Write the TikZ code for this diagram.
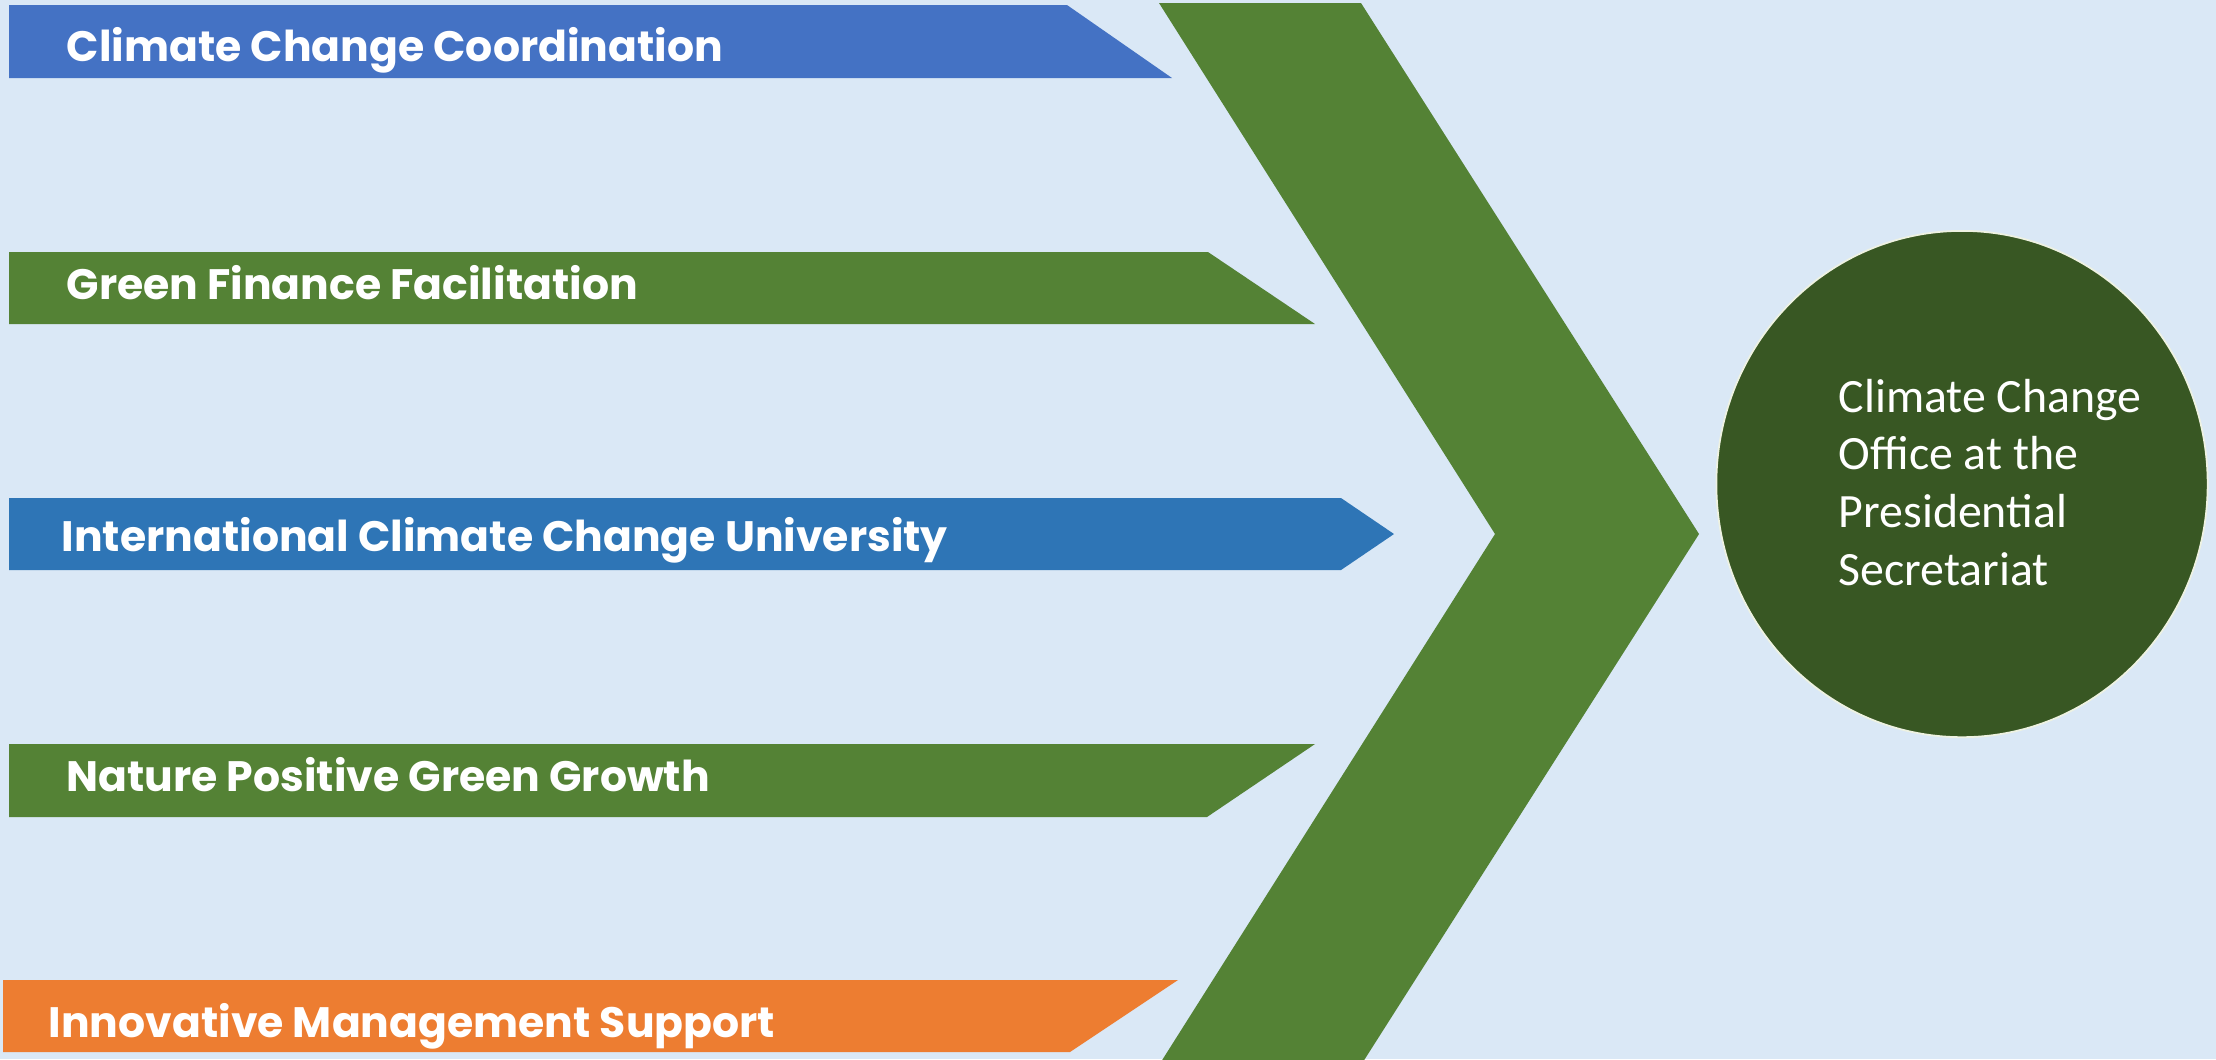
\documentclass[tikz,border=0pt]{standalone}
\usepackage{fontspec}
\newfontfamily\barfont{Poppins}
\newfontfamily\officefont{Carlito}
\usepackage{tikz}
\usetikzlibrary{shapes.geometric}

\definecolor{paleblue}{HTML}{DAE8F6}
\definecolor{coordblue}{HTML}{4472C4}
\definecolor{unigblue}{HTML}{2E75B6}
\definecolor{leafgreen}{HTML}{548235}
\definecolor{supportorange}{HTML}{ED7D31}
\definecolor{officegreen}{HTML}{385723}
\definecolor{rimcream}{HTML}{EEF2E2}

\tikzset{
  bartext/.style={anchor=base west, inner sep=0pt, text=white,
    font=\barfont\bfseries\fontsize{12.1}{14}\selectfont},
  officetext/.style={align=left, inner sep=0pt, text=white,
    font=\officefont\fontsize{13.6}{16.4}\selectfont}
}

\begin{document}
\begin{tikzpicture}[x=0.01cm, y=-0.01cm]
    \fill[paleblue] (0,0) rectangle (2216,1059);
    \useasboundingbox (0,0) rectangle (2216,1059);

    \fill[coordblue] (9,5) -- (1067,5) -- (1172,78) -- (9,78) -- cycle;
    \fill[leafgreen] (9,252) -- (1208,252) -- (1315,324) -- (9,324) -- cycle;
    \fill[unigblue] (9,498) -- (1341,498) -- (1394,534) -- (1341,570) -- (9,570) -- cycle;
    \fill[leafgreen] (9,744) -- (1315,744) -- (1207,817) -- (9,817) -- cycle;
    \fill[supportorange] (3,980) -- (1178,980) -- (1070,1052) -- (3,1052) -- cycle;

    \fill[leafgreen] (1159,3) -- (1361,3) -- (1699,534) -- (1361,1065)
        -- (1159,1065) -- (1495,534) -- cycle;

    \node[bartext] (coord) at (66,61) {Climate Change Coordination};
    \node[bartext] (finance) at (66,299) {Green Finance Facilitation};
    \node[bartext] (univ) at (61,551) {International Climate Change University};
    \node[bartext] (nature) at (66,791) {Nature Positive Green Growth};
    \node[bartext] (support) at (48,1037) {Innovative Management Support};

    \node[ellipse, fill=officegreen, draw=rimcream, line width=0.5pt,
        minimum width=4.91cm, minimum height=5.06cm, inner sep=0pt] (office) at (1962,484) {};
    \node[officetext, anchor=base west] (officelabel) at (1838,585)
        {Climate Change\\Office at the\\Presidential\\Secretariat};
\end{tikzpicture}
\end{document}
